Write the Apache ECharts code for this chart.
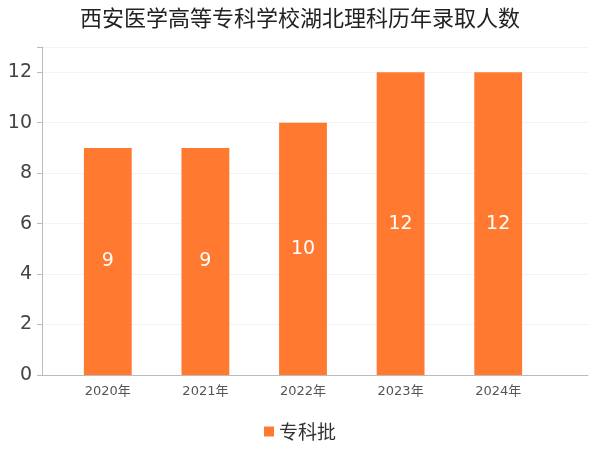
<!DOCTYPE html>
<html>
<head>
<meta charset="utf-8">
<script src="https://cdn.jsdelivr.net/npm/echarts@6/dist/echarts.min.js"></script>
</head>
<body style="margin:0">
<div id="main" style="width:600px;height:450px;"></div>
<script>
var years = ['2020年', '2021年', '2022年', '2023年', '2024年'];
var counts = [9, 9, 10, 12, 12];
var seriesName = '专科批';

var chart = echarts.init(document.getElementById('main'));
chart.setOption({
  textStyle: { fontFamily: 'DejaVu Sans, Noto Sans CJK SC' },
  title: {
    text: '西安医学高等专科学校湖北理科历年录取人数',
    left: 'center', top: 2,
    textStyle: { fontSize: 22, fontWeight: 'normal', color: '#222', fontFamily: 'Noto Sans CJK SC' }
  },
  legend: {
    bottom: 4, itemWidth: 10, itemHeight: 10, icon: 'rect',
    textStyle: { fontSize: 19, color: '#333', fontFamily: 'Noto Sans CJK SC' },
    data: [seriesName]
  },
  grid: [
    { left: 59, right: 53, top: 47, bottom: 75 },
    { left: 42, right: 12, top: 47, bottom: 75 }
  ],
  xAxis: [{
    type: 'category', data: years, gridIndex: 0,
    axisLine: { show: false },
    axisTick: { show: false },
    axisLabel: { fontSize: 13, color: '#555', margin: 10 }
  }, {
    type: 'value', gridIndex: 1, min: 0, max: 1,
    axisLine: { show: true, lineStyle: { color: '#bbb' } },
    axisTick: { show: false }, axisLabel: { show: false }, splitLine: { show: false }
  }],
  yAxis: [{
    type: 'value', gridIndex: 0, min: 0, max: 13, interval: 2, show: false
  }, {
    type: 'value', gridIndex: 1, min: 0, max: 13, interval: 2,
    axisLine: { show: true, lineStyle: { color: '#bbb' } },
    splitLine: { lineStyle: { color: '#f3f3f3' } },
    axisLabel: { fontSize: 19, color: '#444', margin: 10,
      formatter: function (v) { return v % 2 === 0 ? v : ''; } }
  }],
  series: [{
    name: seriesName, type: 'bar', data: counts, barWidth: '49%',
    xAxisIndex: 0, yAxisIndex: 0,
    itemStyle: { color: '#FF7A30' },
    label: { show: true, position: 'inside', color: '#fff', fontSize: 19 }
  }]
});
</script>
</body>
</html>
